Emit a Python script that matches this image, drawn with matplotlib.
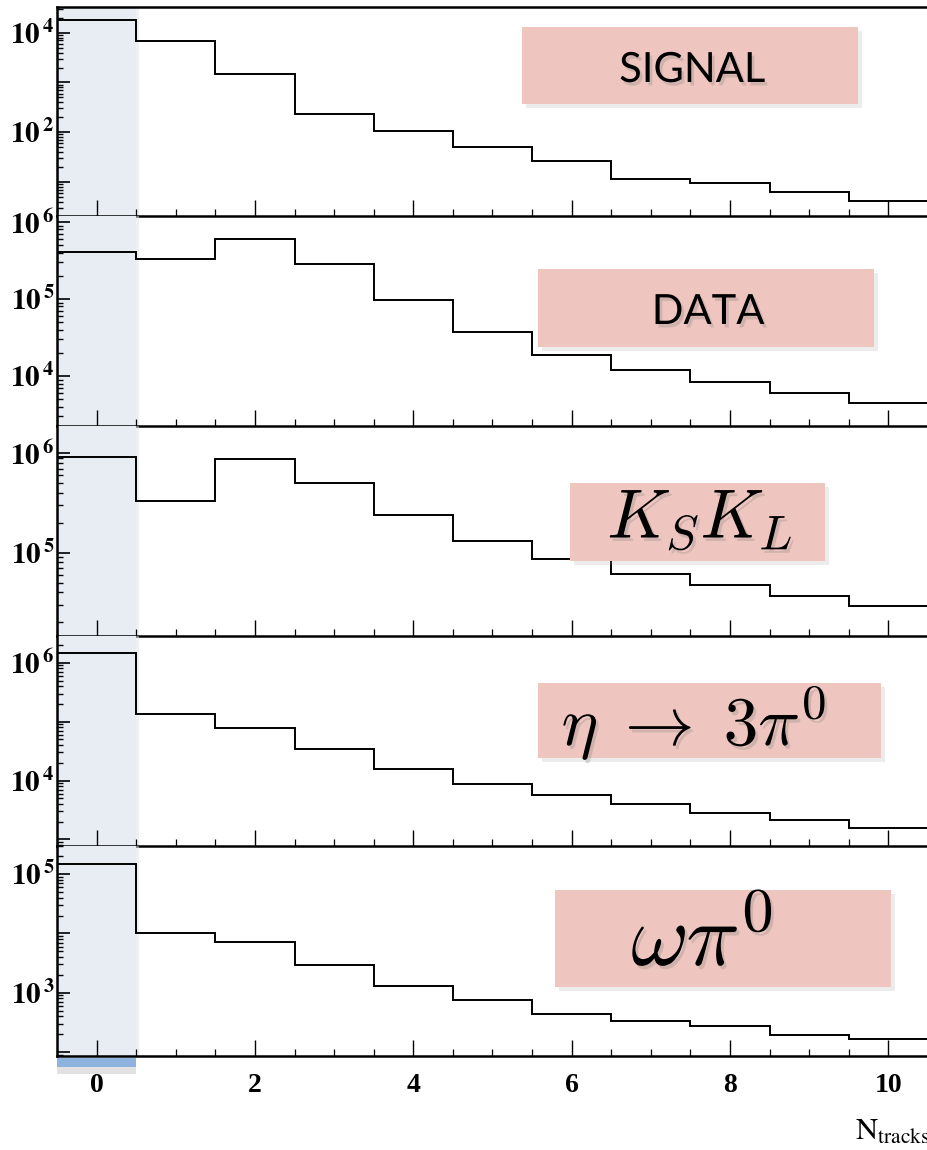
import numpy as np
import matplotlib
matplotlib.use('Agg')
import matplotlib.pyplot as plt
import matplotlib.patheffects as pe
import matplotlib.transforms as mtransforms
from matplotlib.patches import Rectangle
from matplotlib.ticker import LogLocator, NullFormatter, MultipleLocator

plt.rcParams['mathtext.fontset'] = 'stix'

# ── Data ─────────────────────────────────────────────────────────────────────
edges = np.arange(-0.5, 11.0, 1.0)          # bin edges, N_tracks = 0..10
signal   = [18300, 6900, 1500, 237, 105, 51, 26, 11.3, 9.4, 6.3, 4.15]
data     = [411000, 334000, 607000, 285000, 97000, 37300, 18700, 12000, 8360, 6070, 4460]
kskl     = [924000, 329000, 877000, 502000, 239000, 132000, 86300, 60800, 47200, 36800, 29200]
eta3pi0  = [1.44e6, 135000, 78200, 34800, 15800, 8690, 5780, 3970, 2830, 2150, 1570]
omegapi0 = [149000, 10100, 7130, 2960, 1280, 745, 442, 329, 277, 195, 165]

series = [signal, data, kskl, eta3pi0, omegapi0]
names = ['SIGNAL', 'DATA', r'$K_S K_L$', r'$\eta\;\rightarrow\;3\pi^0$', r'$\omega\pi^0$']
ylims = [(2.1, 3.3e4), (2.26e3, 1.21e6), (1.46e4, 1.88e6), (778, 2.87e6), (85.5, 3.0e5)]
labelled = [[2, 4], [4, 5, 6], [5, 6], [4, 6], [3, 5]]
xticks = [0, 2, 4, 6, 8, 10]

# ── Layout helpers (pixel -> figure fraction) ────────────────────────────────
W, H = 928, 1150
def fx(px): return px / W
def fy(py): return 1 - py / H

panel_y = [7, 215.6, 425.8, 635.8, 845.9, 1056]
left = 57

# label boxes: (x0, y0, x1, y1) in px, text anchor, font settings
boxes = [(522, 27, 858, 104), (538, 269, 874, 347), (570, 483, 825, 561),
         (538, 683, 881, 758), (555, 890, 891, 987)]
text_pos = [(692, 70, 'center'), (708, 312, 'center'), (700, 538, 'baseline'),
            (694, 745, 'baseline'), (702, 965, 'baseline')]
text_size = [30, 30, 50, 50, 64]

BAND = '#e8ecf3'
BOX = '#eec6bf'

fig = plt.figure(figsize=(W / 100, H / 100), dpi=100)

axes = []
for i, vals in enumerate(series):
    top, bot = panel_y[i], panel_y[i + 1]
    ax = fig.add_axes([fx(left), fy(bot), 1 - fx(left), (bot - top) / H])
    axes.append(ax)

    ax.axvspan(edges[0], edges[1], color=BAND, zorder=0, lw=0)
    ax.axvspan(edges[1], edges[1] + 0.04, color='#dfe2e8', alpha=0.5, zorder=0, lw=0)
    ax.stairs(vals, edges, baseline=None, color='black', lw=1.4, zorder=3)

    ax.set_yscale('log')
    ax.set_ylim(*ylims[i])
    ax.set_xlim(edges[0], edges[-1])

    lo, hi = np.log10(ylims[i])
    decs = list(range(int(np.ceil(lo)), int(np.floor(hi)) + 1))
    ylabs = [r'$\mathbf{10}^{\,\mathbf{%d}}$' % d if d in labelled[i] else ''
             for d in decs]
    ax.set_yticks([10.0 ** d for d in decs], labels=ylabs)
    ax.yaxis.set_minor_locator(LogLocator(base=10, subs=np.arange(2, 10), numticks=30))
    ax.yaxis.set_minor_formatter(NullFormatter())

    ax.set_xticks(xticks)
    ax.xaxis.set_minor_locator(MultipleLocator(0.5))

    ax.tick_params(axis='y', which='major', direction='in', length=9.5, width=1.2,
                   labelsize=21, pad=2, right=False)
    ax.tick_params(axis='y', which='minor', direction='in', length=4.5, width=1.0,
                   right=False)
    ax.tick_params(axis='x', which='major', direction='in', length=11.5, width=1.0,
                   labelsize=20, pad=12, top=False, labelbottom=(i == 4))
    ax.tick_params(axis='x', which='minor', direction='in', length=5, width=0.9,
                   top=False)
    for t in ax.get_xticklabels():
        t.set_fontfamily('Liberation Serif')
        t.set_fontweight('bold')

    ax.spines['right'].set_visible(False)
    for s in ('left', 'top', 'bottom'):
        ax.spines[s].set_linewidth(1.8)
    if i > 0:
        ax.spines['top'].set_visible(False)
    ax.set_facecolor('none')

# blue marker bar under the N_tracks = 0 band
ax = axes[-1]
trans = mtransforms.blended_transform_factory(ax.transData, ax.transAxes)
ax.add_patch(Rectangle((edges[0], -0.085), 1, 0.035, transform=trans,
                       color='#e2e2e2', clip_on=False, lw=0, zorder=1))
ax.add_patch(Rectangle((edges[0], -0.052), 1, 0.043, transform=trans,
                       color='#8fb3df', clip_on=False, lw=0, zorder=2))

# label boxes with soft shadows
box_fx = [pe.withSimplePatchShadow(offset=(3, -3), shadow_rgbFace='#999999', alpha=0.18)]
txt_fx = [pe.withSimplePatchShadow(offset=(2, -2.5), shadow_rgbFace='#777777', alpha=0.25)]
for i, name in enumerate(names):
    x0, y0, x1, y1 = boxes[i]
    r = Rectangle((fx(x0), fy(y1)), (x1 - x0) / W, (y1 - y0) / H,
                  transform=fig.transFigure, facecolor=BOX, edgecolor='none',
                  path_effects=box_fx, zorder=5)
    fig.add_artist(r)
    tx, ty, va = text_pos[i]
    if i < 2:
        fig.text(fx(tx), fy(ty), name, ha='center', va=va, fontsize=text_size[i],
                 family='Lato', color='black', path_effects=txt_fx, zorder=6)
    else:
        fig.text(fx(tx), fy(ty), name, ha='center', va=va, fontsize=text_size[i],
                 math_fontfamily='cm', color='black', path_effects=txt_fx, zorder=6)

fig.text(fx(930), fy(1140), r'$\mathrm{N}_{\mathrm{tracks}}$', ha='right',
         va='baseline', fontsize=22, color='black')

fig.savefig('out.png', dpi=100)
